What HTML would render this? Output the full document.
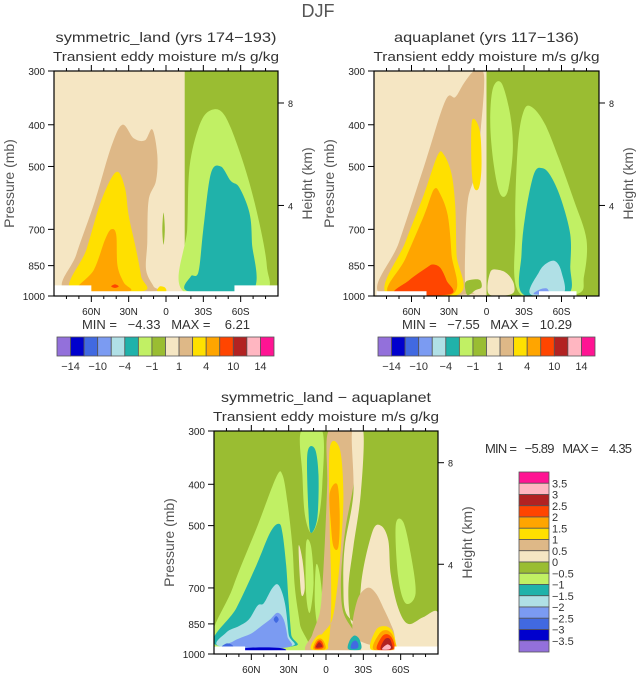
<!DOCTYPE html>
<html><head><meta charset="utf-8"><style>
html,body{margin:0;padding:0;background:#fff;}
svg{display:block;font-family:"Liberation Sans",sans-serif;}
.pre{white-space:pre;}
</style></head><body>
<svg id="fig" width="637" height="674" viewBox="0 0 637 674" xmlns="http://www.w3.org/2000/svg">
<text x="318" y="17" font-size="18" text-anchor="middle" fill="#555">DJF</text>
</svg>
<script>
// ---- data ----
const palette = ["#9370DB","#0000CD","#4169E1","#7B9BF2","#B0E0E6","#20B2AA","#C1F064","#9ABD32","#F5E6C3","#DEB887","#FFE000","#FFA500","#FF4500","#B22222","#FFB6C1","#FF1493"];
const levelLabelsTop = ["-14","-10","-4","-1","1","4","10","14"];
const levelLabelsDiff = ["3.5","3","2.5","2","1.5","1","0.5","0","-0.5","-1","-1.5","-2","-2.5","-3","-3.5"];
const latTicks = [60,30,0,-30,-60];
const latTickLabels = ["60N","30N","0","30S","60S"];
const pTicks = [300,400,500,700,850,1000];
const hTicks = [8,4];
const hTickP = [356,616];

// contours: [colorIndex, [[lat,p],...]]
const land = [
 [8,[[90,300],[-15,300],[-15,1000],[90,1000]]],
 [7,[[-15,300],[-90,300],[-90,1000],[-15,1000]]],
 [9,[[80,975],[72,800],[57,600],[44,450],[35,400],[26,430],[17,435],[11,410],[7,470],[8,540],[14,600],[15,750],[16,870],[10,950],[8,975]]],
 [10,[[76,975],[64,780],[52,600],[40,515],[33,560],[30,650],[24,780],[20,900],[19,975]]],
 [11,[[71,975],[58,870],[49,740],[44,700],[40,720],[39,850],[34,930],[30,975]]],
 [12,[[44,950],[41,940],[38,950],[41,958]]],
 [10,[[7,975],[5,950],[1,955],[0,975]]],
 [7,[[2,640],[3,700],[2,760],[1,700]]],
 [6,[[-14,975],[-17,700],[-19,500],[-27,400],[-36,370],[-47,380],[-60,470],[-72,620],[-81,850],[-77,975]]],
 [5,[[-18,975],[-20,900],[-26,880],[-30,700],[-36,520],[-44,500],[-52,540],[-59,560],[-67,640],[-69,750],[-69,975]]]
];
const landWhite = [[90,945],[90,1000],[-90,1000],[-90,945],[-55,945],[-55,975],[60,975],[60,945]];
const aqua = [
 [8,[[90,300],[0,300],[0,1000],[90,1000]]],
 [7,[[0,300],[-90,300],[-90,1000],[0,1000]]],
 [9,[[85,990],[70,750],[50,500],[33,352],[25,345],[18,320],[10,300],[3,300],[2,330],[5,420],[9,520],[15,600],[17,770],[17,950],[14,990]]],
 [10,[[80,990],[65,750],[50,580],[39,470],[34,470],[28,520],[25,620],[24,800],[22,990]]],
 [11,[[78,990],[65,820],[50,650],[42,565],[37,580],[31,650],[28,800],[27,990]]],
 [12,[[73,990],[62,920],[48,860],[43,845],[37,860],[32,920],[29,990]]],
 [10,[[12,400],[9,390],[5,420],[4,500],[6,560],[10,560],[12,500]]],
 [6,[[-5,330],[-12,320],[-19,380],[-21,460],[-17,570],[-11,580],[-6,500],[-3,400]]],
 [6,[[-27,990],[-23,700],[-25,450],[-30,370],[-37,365],[-47,400],[-58,480],[-70,600],[-80,740],[-78,900],[-72,990]]],
 [5,[[-29,990],[-28,800],[-31,650],[-38,520],[-45,505],[-52,530],[-60,600],[-67,720],[-67,850],[-65,990]]],
 [4,[[-35,990],[-42,880],[-48,840],[-55,830],[-60,880],[-61,990]]],
 [3,[[-38,990],[-43,965],[-48,960],[-50,975],[-52,990]]],
 [8,[[-2,990],[-3,880],[-10,870],[-17,890],[-22,940],[-20,990]]],
 [7,[[16,990],[17,930],[10,915],[5,920],[4,955],[9,970],[13,990]]]
];
const aquaWhite = [[88,975],[88,1000],[48,1000],[48,975]];
const aquaWhite2 = [[-42,975],[-42,1000],[-72,1000],[-72,975]];
const diff = [
 [7,[[90,300],[-90,300],[-90,1000],[90,1000]]],
 [6,[[89,960],[75,700],[55,500],[40,385],[35,380],[31,440],[27,560],[25,700],[21,850],[18,990]]],
 [5,[[89,950],[72,780],[56,620],[45,520],[38,495],[35,520],[32,620],[30,760],[28,900],[27,960]]],
 [4,[[85,960],[80,890],[70,860],[62,830],[55,770],[50,760],[43,700],[38,690],[33,760],[30,900],[29,960]]],
 [3,[[80,965],[75,935],[68,915],[60,895],[52,860],[45,830],[39,800],[34,830],[31,910],[31,965]]],
 [2,[[84,965],[80,945],[76,950],[75,965]]],
 [2,[[42,830],[40,815],[38,830],[40,845]]],
 [1,[[67,970],[50,965],[35,970],[35,985],[67,985]]],
 [6,[[20,300],[3,300],[3,400],[6,480],[12,520],[17,470],[19,380]]],
 [5,[[15,340],[9,330],[6,380],[7,480],[12,520],[14,470]]],
 [6,[[16,550],[12,560],[10,680],[13,800],[16,720]]],
 [6,[[8,620],[5,650],[3,760],[6,870],[9,760]]],
 [8,[[22,560],[19,600],[17,700],[20,720]]],
 [9,[[-2,300],[-21,300],[-23,380],[-16,500],[-13,600],[-12,700],[-14,800],[-22,880],[-30,950],[-34,990],[14,990],[11,900],[5,800],[3,700],[1,550],[-1,400]]],
 [8,[[-21,300],[-30,300],[-28,420],[-22,560],[-18,700],[-20,840],[-26,860],[-16,800],[-14,700],[-15,560],[-22,420]]],
 [10,[[-3,330],[-11,330],[-14,420],[-12,560],[-9,700],[-5,830],[2,890],[8,930],[10,960],[3,990],[-2,940],[-4,800],[-4,650],[-3,500]]],
 [11,[[-3,420],[-9,400],[-11,470],[-10,560],[-6,560],[-4,500]]],
 [8,[[-30,990],[-28,700],[-37,520],[-44,500],[-50,540],[-52,650],[-58,780],[-66,850],[-78,820],[-90,800],[-90,990]]],
 [9,[[-22,900],[-25,750],[-33,700],[-40,720],[-47,790],[-52,850],[-55,900],[-54,960],[-40,960]]],
 [6,[[-56,500],[-62,490],[-68,580],[-72,720],[-64,760],[-58,660]]],
 [10,[[-36,975],[-40,880],[-47,860],[-53,880],[-56,940],[-55,975]]],
 [11,[[-38,975],[-43,895],[-49,880],[-54,910],[-55,975]]],
 [12,[[-41,975],[-45,910],[-50,900],[-54,930],[-54,975]]],
 [13,[[-44,975],[-47,925],[-51,920],[-53,950],[-53,975]]],
 [14,[[-45,975],[-49,950],[-52,960],[-51,975]]],
 [10,[[12,975],[9,920],[4,900],[0,930],[-1,975]]],
 [11,[[10,975],[8,930],[4,920],[1,945],[1,975]]],
 [12,[[9,970],[7,935],[4,930],[2,955],[3,970]]],
 [13,[[8,965],[6,940],[4,945],[3,962]]],
 [5,[[-18,975],[-19,930],[-23,905],[-27,925],[-28,975]]],
 [2,[[-20,970],[-21,940],[-24,930],[-26,950],[-25,970]]]
];
const diffWhite = [[90,960],[90,1000],[-90,1000],[-90,960],[-55,960],[-55,980],[65,980],[65,960]];

const svg = document.getElementById('fig');
const NS = "http://www.w3.org/2000/svg";
function el(tag, attrs, parent){ const e=document.createElementNS(NS,tag); for(const k in attrs) e.setAttribute(k,attrs[k]); (parent||svg).appendChild(e); return e; }

function smoothPath(pts){
  const n=pts.length; let d=`M${pts[0][0].toFixed(1)},${pts[0][1].toFixed(1)}`;
  for(let i=0;i<n;i++){
    const p0=pts[(i-1+n)%n],p1=pts[i],p2=pts[(i+1)%n],p3=pts[(i+2)%n];
    const c1=[p1[0]+(p2[0]-p0[0])/6,p1[1]+(p2[1]-p0[1])/6];
    const c2=[p2[0]-(p3[0]-p1[0])/6,p2[1]-(p3[1]-p1[1])/6];
    d+=`C${c1[0].toFixed(1)},${c1[1].toFixed(1)} ${c2[0].toFixed(1)},${c2[1].toFixed(1)} ${p2[0].toFixed(1)},${p2[1].toFixed(1)}`;
  }
  return d+'Z';
}

function panel(cfg){
  const {x0,y0,w,h,name} = cfg;
  const X = lat => x0 + (90-lat)*w/180;
  const Y = p => y0 + Math.log(p/300)/Math.log(1000/300)*h;
  const g = el('g',{});
  
  
  const cid='clip-'+name;
  const cp=el('clipPath',{id:cid},g); el('rect',{x:x0,y:y0,width:w,height:h},cp);
  const fills=el('g',{'clip-path':`url(#${cid})`},g);
  cfg.contours.forEach((c,i)=>{
    const pts=c[1].map(q=>[X(q[0]),Y(q[1])]);
    const isRect = i===0 || (cfg.rect2 && i===1);
    const pa=el('path',{d: isRect? 'M'+pts.map(q=>q.join(',')).join('L')+'Z' : smoothPath(pts), fill:palette[c[0]]},fills);
    
    
  });
  cfg.whites.forEach(wh=>{
    const pa=el('path',{d:'M'+wh.map(q=>X(q[0])+','+Y(q[1])).join('L')+'Z',fill:'#fff'},fills);
    
    
  });
  el('rect',{x:x0,y:y0,width:w,height:h,fill:'none',stroke:'#000','stroke-width':1.2},g);
  for(let lat=-80;lat<=80;lat+=10){
    const major = lat%30===0;
    const L = major?6:3;
    el('line',{x1:X(lat),x2:X(lat),y1:y0+h,y2:y0+h+L,stroke:'#000','stroke-width':1},g);
    el('line',{x1:X(lat),x2:X(lat),y1:y0,y2:y0-L,stroke:'#000','stroke-width':1},g);
  }
  latTicks.forEach((lat,i)=>{
    const t=el('text',{x:X(lat),y:y0+h+19,'font-size':10,'text-anchor':'middle',fill:'#222'},g);
    t.textContent=latTickLabels[i];
    
    
  });
  pTicks.forEach(p=>{
    el('line',{x1:x0-6,x2:x0,y1:Y(p),y2:Y(p),stroke:'#000','stroke-width':1},g);
    const t=el('text',{x:x0-9,y:Y(p)+4,'font-size':10,'text-anchor':'end',fill:'#222'},g);
    t.textContent=p;
    
    
  });
  hTicks.forEach((hk,i)=>{
    const yy=Y(hTickP[i]);
    el('line',{x1:x0+w,x2:x0+w+6,y1:yy,y2:yy,stroke:'#000','stroke-width':1},g);
    const t=el('text',{x:x0+w+10,y:yy+4,'font-size':9,fill:'#222'},g);
    t.textContent=hk;
    
    
  });
  const py=y0+h/2;
  const t1=el('text',{x:0,y:0,'font-size':14,'text-anchor':'middle',fill:'#555',transform:`translate(${x0-40},${py}) rotate(-90)`},g);
  t1.textContent='Pressure (mb)';
  
  
  const t2=el('text',{x:0,y:0,'font-size':14,'text-anchor':'middle',fill:'#555',transform:`translate(${x0+w+34},${py}) rotate(-90)`},g);
  t2.textContent='Height (km)';
  
  
  const tt=el('text',{x:x0+w/2,y:y0-29,'font-size':14,'text-anchor':'middle',fill:'#333',textLength:cfg.titleLen,lengthAdjust:'spacingAndGlyphs'},g);
  tt.textContent=cfg.title;
  
  
  const st=el('text',{x:x0+w/2,y:y0-10,'font-size':13,'text-anchor':'middle',fill:'#333',textLength:226,lengthAdjust:'spacingAndGlyphs'},g);
  st.textContent='Transient eddy moisture m/s g/kg';
  
  
}

function hbar(x,y,w,h,minmax,x1,len){
  const mm=el('text',{x:x1,y:y-8,'font-size':13,fill:'#333','class':'pre',textLength:len,lengthAdjust:'spacing'});
  mm.textContent=minmax;
  
  
  const bw=w/16;
  palette.forEach((c,i)=>{
    const r=el('rect',{x:x+i*bw,y:y,width:bw,height:h,fill:c,stroke:'#555','stroke-width':0.8});
    
    
  });
  levelLabelsTop.forEach((s,i)=>{
    const t=el('text',{x:x+(2*i+1)*bw,y:y+h+14,'font-size':11,'text-anchor':'middle',fill:'#333'});
    t.textContent=s.replace('-','\u2212');
    
    
  });
}

panel({x0:54,y0:71,w:224,h:225,name:'symmetric-land',contours:land,whites:[landWhite],title:'symmetric_land (yrs 174\u2212193)',titleLen:221,rect2:true});
panel({x0:374,y0:71,w:225,h:225,name:'aquaplanet',contours:aqua,whites:[aquaWhite,aquaWhite2],title:'aquaplanet (yrs 117\u2212136)',titleLen:185,rect2:true});
panel({x0:214,y0:431,w:224,h:223,name:'difference',contours:diff,whites:[diffWhite],title:'symmetric_land \u2212 aquaplanet',titleLen:210,rect2:false});

hbar(57,337,217,19,'MIN =   \u22124.33   MAX =    6.21',82,168);
hbar(378,337,217,19,'MIN =   \u22127.55   MAX =   10.29',402,170);

const vx=519,vy=472,vw=30,vh=180,bh=vh/16;
const revPal = palette.slice().reverse();
revPal.forEach((c,i)=>{
  const r=el('rect',{x:vx,y:vy+i*bh,width:vw,height:bh,fill:c,stroke:'#555','stroke-width':0.8});
  
  
});
levelLabelsDiff.forEach((s,i)=>{
  const t=el('text',{x:vx+vw+3,y:vy+(i+1)*bh+4,'font-size':11,fill:'#333'});
  t.textContent=s.replace('-','\u2212');
  
  
});
const mm3=el('text',{x:485,y:453,'font-size':13,fill:'#333','class':'pre',textLength:147,lengthAdjust:'spacing'});
mm3.textContent='MIN =   \u22125.89   MAX =    4.35';


</script>
</body></html>
